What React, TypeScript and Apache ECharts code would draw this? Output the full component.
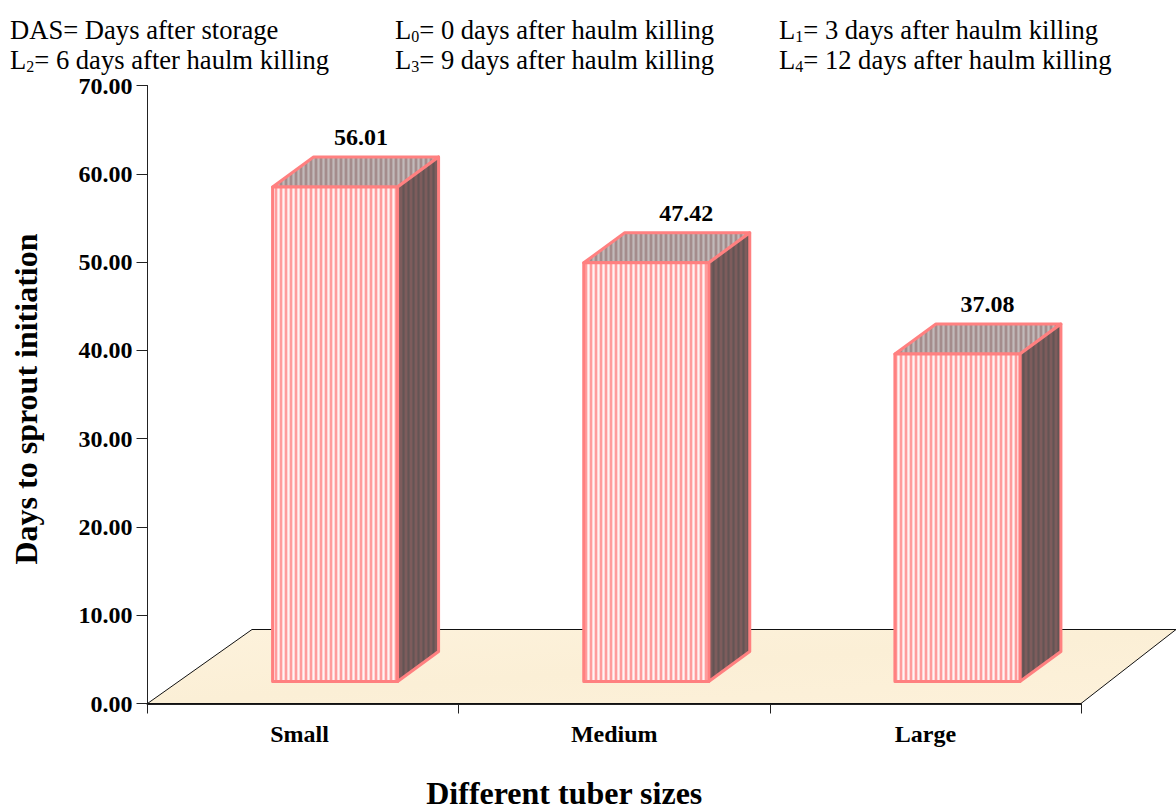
import React, { useEffect, useRef } from "react";
import * as echarts from "echarts";

const categories = ["Small", "Medium", "Large"];
const sproutDays = [56.01, 47.42, 37.08];
const yTicks = { min: 0, max: 70, interval: 10 };
const legendRows = [
  ["DAS= Days after storage", "L{s|0}= 0 days after haulm killing", "L{s|1}= 3 days after haulm killing"],
  ["L{s|2}= 6 days after haulm killing", "L{s|3}= 9 days after haulm killing", "L{s|4}= 12 days after haulm killing"],
];

const FONT = '"Liberation Serif", "Times New Roman", serif';
const EDGE = "#FF8080";
const BAR_W = 125;
const BAR_SHIFT = 32;
const DX = 41;
const DY = -30;
const LIFT = 2.5; // bars stand on the floor, above the axis baseline
const LABEL_SHIFT = [26, 40, 30];

function stripes(fg: string, mid: string, bg: string) {
  const c = document.createElement("canvas");
  c.width = 5;
  c.height = 4;
  const g = c.getContext("2d")!;
  [fg, fg, mid, bg, mid].forEach((col, x) => {
    g.fillStyle = col;
    g.fillRect(x, 0, 1, 4);
  });
  return { image: c, repeat: "repeat" } as any;
}

export default function App() {
  const ref = useRef<HTMLDivElement>(null);
  useEffect(() => {
    const chart = echarts.init(ref.current!, undefined, { renderer: "svg" });
    const frontFill = stripes("#FF9C9C", "#FFD6D6", "#FFF4F4");
    const topFill = stripes("#A48C8C", "#B6A8A8", "#C2BABA");
    const sideFill = stripes("#7E5C5C", "#6E5858", "#645454");

    const legendGraphics: any[] = [];
    const xs = [10, 395, 779];
    const ys = [30, 60];
    legendRows.forEach((row, r) =>
      row.forEach((t, c) =>
        legendGraphics.push({
          type: "text",
          x: xs[c],
          y: ys[r],
          z: 10,
          style: {
            text: t,
            fill: "#000",
            fontFamily: FONT,
            fontSize: 26.6,
            verticalAlign: "middle",
            rich: {
              s: { fontFamily: FONT, fontSize: 16, fill: "#000", verticalAlign: "bottom", padding: [12, 0, 0, 0] },
            },
          },
        })
      )
    );

    chart.setOption({
      animation: false,
      backgroundColor: "#fff",
      textStyle: { fontFamily: FONT },
      graphic: legendGraphics,
      grid: { left: 147.5, right: 95, top: 85.5, bottom: 100.5, containLabel: false, outerBoundsMode: "none" },
      xAxis: {
        type: "category",
        data: categories,
        boundaryGap: true,
        name: "Different tuber sizes",
        nameLocation: "middle",
        nameGap: 73,
        nameTextStyle: { fontFamily: FONT, fontSize: 32, fontWeight: "bold", color: "#000", padding: [0, 100, 0, 0] },
        axisLine: { onZero: false, lineStyle: { color: "#222", width: 2 } },
        axisTick: { show: true, length: 10, alignWithLabel: false, lineStyle: { color: "#222", width: 1 } },
        axisLabel: {
          margin: 18,
          color: "#000",
          fontFamily: FONT,
          fontSize: 24,
          fontWeight: "bold",
          interval: 0,
          formatter: (v: string) => (v === "Small" ? `{s|${v}}` : v),
          rich: { s: { fontFamily: FONT, fontSize: 24, fontWeight: "bold", color: "#000", padding: [0, 7, 0, 0] } },
        },
      },
      yAxis: {
        type: "value",
        min: yTicks.min,
        max: yTicks.max,
        interval: yTicks.interval,
        name: "Days to sprout initiation",
        nameLocation: "middle",
        nameRotate: 90,
        nameGap: 106,
        nameTextStyle: { fontFamily: FONT, fontSize: 32, fontWeight: "bold", color: "#000", padding: [0, 9, 0, 0] },
        splitLine: { show: false },
        axisLine: { show: true, lineStyle: { color: "#222", width: 1 } },
        axisTick: { show: true, length: 11, lineStyle: { color: "#222", width: 1 } },
        axisLabel: {
          margin: 15,
          color: "#000",
          fontFamily: FONT,
          fontSize: 24,
          fontWeight: "bold",
          formatter: (v: number) => v.toFixed(2),
        },
      },
      series: [
        {
          type: "custom",
          z: 1,
          silent: true,
          clip: false,
          data: [0],
          renderItem: (params: any, api: any) => {
            const cs = params.coordSys;
            const b = cs.y + cs.height;
            const r = cs.x + cs.width;
            const bx = cs.x + 104.5;
            const by = b - 74;
            return {
              type: "group",
              children: [
                {
                  type: "polygon",
                  shape: { points: [[cs.x, b], [bx, by], [r + 95, by], [r, b]] },
                  style: {
                    fill: new echarts.graphic.LinearGradient(0, 0, 1, 1, [
                      { offset: 0, color: "#FDF2DC" },
                      { offset: 0.5, color: "#FBEFD6" },
                      { offset: 1, color: "#FDF1DA" },
                    ]),
                    stroke: "#111",
                    lineWidth: 1,
                  },
                },
              ],
            };
          },
        },
        {
          type: "custom",
          z: 2,
          silent: true,
          clip: false,
          data: sproutDays.map((v, i) => [i, v]),
          encode: { x: 0, y: 1 },
          renderItem: (params: any, api: any) => {
            const i = api.value(0);
            const v = api.value(1);
            const [cx, yt] = api.coord([i, v + LIFT]);
            const [, yb] = api.coord([i, LIFT]);
            const x0 = cx + BAR_SHIFT - BAR_W / 2;
            const x1 = x0 + BAR_W;
            const common = { stroke: EDGE, lineWidth: 3, lineJoin: "round" };
            return {
              type: "group",
              children: [
                {
                  type: "polygon",
                  shape: { points: [[x0, yt], [x0 + DX, yt + DY], [x1 + DX, yt + DY], [x1, yt]] },
                  style: { fill: topFill, ...common },
                },
                {
                  type: "polygon",
                  shape: { points: [[x1, yt], [x1 + DX, yt + DY], [x1 + DX, yb + DY], [x1, yb]] },
                  style: { fill: sideFill, ...common },
                },
                {
                  type: "rect",
                  shape: { x: x0, y: yt, width: BAR_W, height: yb - yt },
                  style: { fill: frontFill, ...common },
                },
                {
                  type: "text",
                  x: cx + BAR_SHIFT + LABEL_SHIFT[i],
                  y: yt - 50,
                  style: {
                    text: v.toFixed(2),
                    fill: "#000",
                    fontFamily: FONT,
                    fontSize: 24,
                    fontWeight: "bold",
                    align: "center",
                    verticalAlign: "middle",
                  },
                },
              ],
            };
          },
        },
      ],
    });
    return () => chart.dispose();
  }, []);
  return <div ref={ref} style={{ position: "fixed", left: 0, top: 0, width: 1176, height: 804 }} />;
}
